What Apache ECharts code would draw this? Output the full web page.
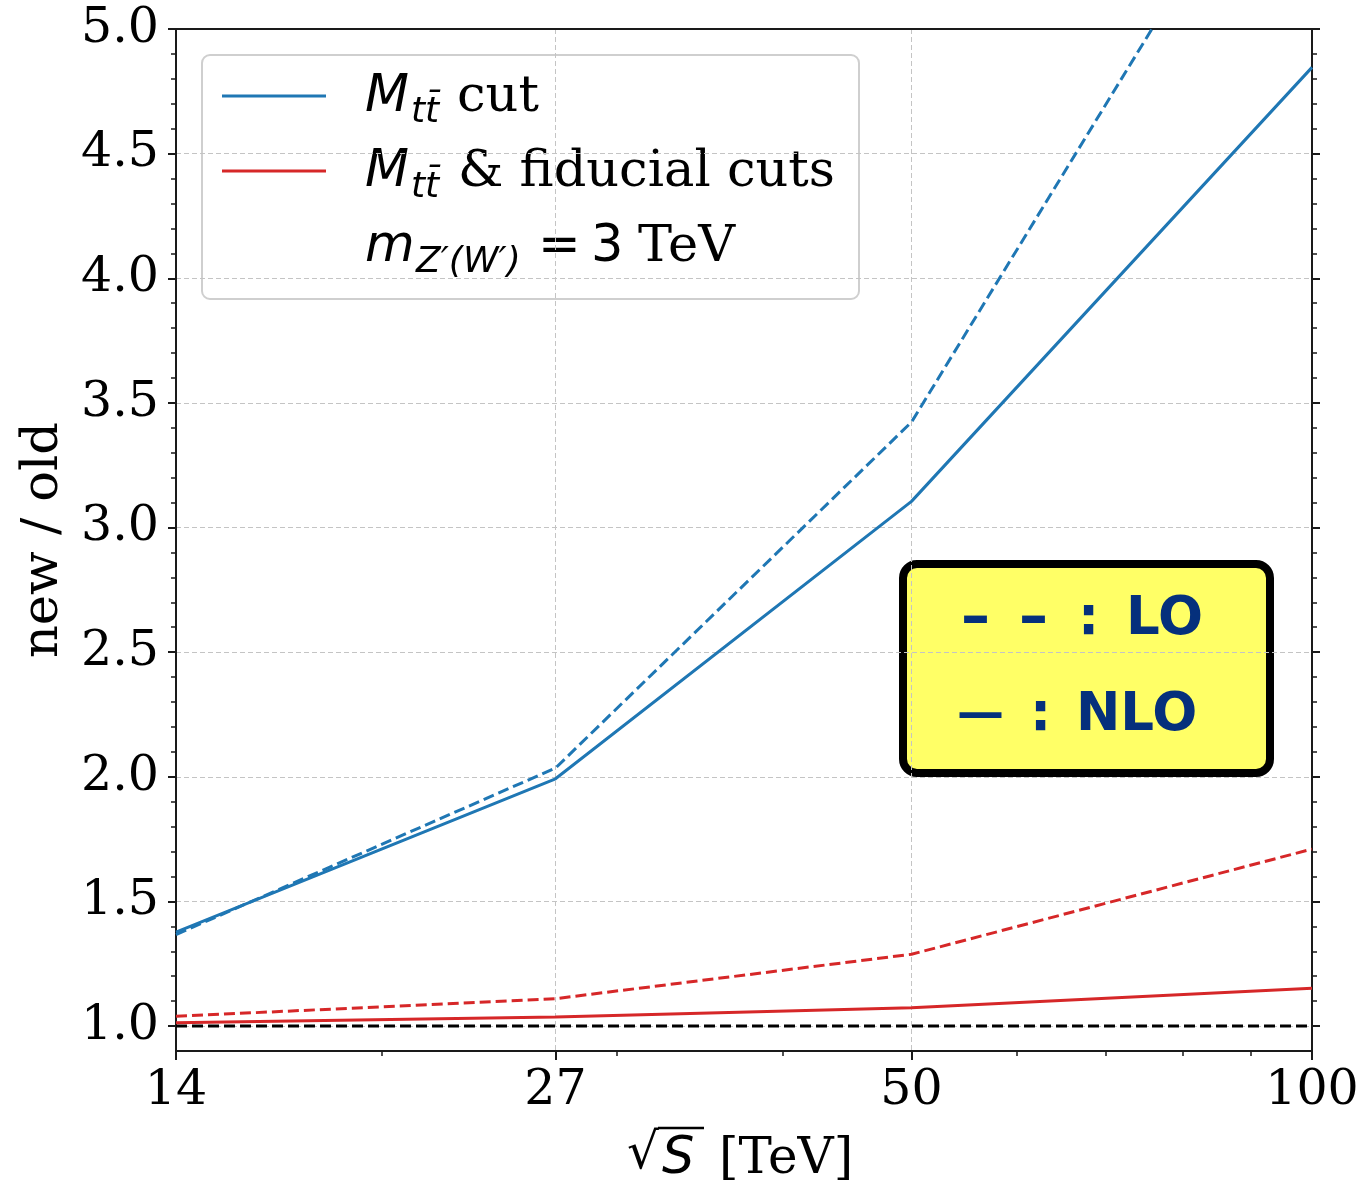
<!DOCTYPE html>
<html>
<head>
<meta charset="utf-8">
<title>new / old vs sqrt(S)</title>
<script src="https://cdn.jsdelivr.net/npm/echarts@6/dist/echarts.min.js"></script>
<style>
  html, body { margin: 0; padding: 0; background: #ffffff; }
  #chart { width: 1364px; height: 1189px; }
</style>
</head>
<body>
<div id="chart"></div>
<script>
// Collider energies sqrt(S) in TeV
const energies = [14, 27, 50, 100];
// Ratio new/old, M_tt cut only
const cutNLO = [1.377, 1.992, 3.105, 4.846];
const cutLO = [1.367, 2.035, 3.423, 6.05];
// Ratio new/old, M_tt & fiducial cuts
const fidNLO = [1.013, 1.036, 1.074, 1.152];
const fidLO = [1.039, 1.110, 1.288, 1.710];
// Reference ratio of one
const unityRange = [14, 100];
const unityValue = [1.0, 1.0];

// Tick values
const xMajorTicks = [14, 27, 50, 100];
const xMinorTicks = [20, 30, 40, 60, 70, 80, 90];
const yMajorTicks = [1.0, 1.5, 2.0, 2.5, 3.0, 3.5, 4.0, 4.5, 5.0];
const yMinorTicks = [1.1, 1.2, 1.3, 1.4, 1.6, 1.7, 1.8, 1.9, 2.1, 2.2, 2.3, 2.4,
  2.6, 2.7, 2.8, 2.9, 3.1, 3.2, 3.3, 3.4, 3.6, 3.7, 3.8, 3.9, 4.1, 4.2, 4.3, 4.4,
  4.6, 4.7, 4.8, 4.9];

const BLUE = '#1f77b4';
const RED = '#d62728';
const NAVY = '#05307c';
const SERIF = 'DejaVu Serif';
const DASH = [11, 5];

const pair = (xs, ys) => xs.map((x, i) => [x, ys[i]]);

const chart = echarts.init(document.getElementById('chart'), null, { renderer: 'canvas' });

const xBase = { type: 'log', logBase: 10, min: 14, max: 100, gridIndex: 0 };
const yBase = { type: 'value', min: 0.9, max: 5.0, gridIndex: 0 };
const spine = { show: true, onZero: false, lineStyle: { color: '#1a1a1a', width: 2 } };
const gridLine = { show: true, lineStyle: { color: '#c4c4c4', width: 1, type: [5, 3] } };

// helper for plain text pieces in the annotation boxes
const txt = (x, y, text, font, extra) => ({
  type: 'text', x: x, y: y,
  style: Object.assign({ text: text, font: font, fill: '#000', verticalAlign: 'middle' }, extra || {})
});

const MAIN_IT = 'italic 51px "DejaVu Sans"';
const SUB_IT = 'italic 36px "DejaVu Sans"';
const MAIN_RM = '51px "DejaVu Serif"';
const MAIN_SANS = '51px "DejaVu Sans"';
const KEY_FONT = 'bold 53px "DejaVu Sans"';

const option = {
  backgroundColor: '#ffffff',
  animation: false,
  grid: { left: 176, right: 52, top: 29, bottom: 138, containLabel: false },
  xAxis: [
    Object.assign({}, xBase, {
      position: 'bottom',
      axisLine: spine,
      axisTick: { show: true, customValues: xMajorTicks, length: 9, lineStyle: { color: '#1a1a1a', width: 2 } },
      axisLabel: {
        show: true, customValues: xMajorTicks, margin: 16,
        fontFamily: SERIF, fontSize: 49, color: '#000',
        formatter: v => String(Math.round(v))
      },
      splitLine: gridLine,
      minorTick: { show: false }, minorSplitLine: { show: false }
    }),
    Object.assign({}, xBase, {
      position: 'bottom',
      axisLine: { show: false },
      axisTick: { show: true, customValues: xMinorTicks, length: 5, lineStyle: { color: '#1a1a1a', width: 1.5 } },
      axisLabel: { show: false },
      splitLine: { show: false }
    }),
    Object.assign({}, xBase, {
      position: 'top',
      axisLine: spine,
      axisTick: { show: false },
      axisLabel: { show: false },
      splitLine: { show: false }
    })
  ],
  yAxis: [
    Object.assign({}, yBase, {
      position: 'left',
      axisLine: spine,
      axisTick: { show: true, customValues: yMajorTicks, length: 8, lineStyle: { color: '#1a1a1a', width: 2 } },
      axisLabel: {
        show: true, customValues: yMajorTicks, margin: 17, padding: [6, 0, 0, 0],
        fontFamily: SERIF, fontSize: 49, color: '#000',
        formatter: v => v.toFixed(1)
      },
      splitLine: Object.assign({}, gridLine, { show: true }),
      minorTick: { show: false }
    }),
    Object.assign({}, yBase, {
      position: 'left',
      axisLine: { show: false },
      axisTick: { show: true, customValues: yMinorTicks, length: 5, lineStyle: { color: '#1a1a1a', width: 1.5 } },
      axisLabel: { show: false },
      splitLine: { show: false }
    }),
    Object.assign({}, yBase, {
      position: 'right',
      axisLine: spine,
      axisTick: { show: true, customValues: yMajorTicks, length: 8, lineStyle: { color: '#1a1a1a', width: 2 } },
      axisLabel: { show: false },
      splitLine: { show: false }
    }),
    Object.assign({}, yBase, {
      position: 'right',
      axisLine: { show: false },
      axisTick: { show: true, customValues: yMinorTicks, length: 5, lineStyle: { color: '#1a1a1a', width: 1.5 } },
      axisLabel: { show: false },
      splitLine: { show: false }
    })
  ],
  series: [
    {
      name: 'ratio = 1', type: 'line', xAxisIndex: 0, yAxisIndex: 0,
      data: pair(unityRange, unityValue), symbol: 'none', clip: true, z: 2,
      lineStyle: { color: '#000000', width: 3, type: DASH }
    },
    {
      name: 'M_tt cut LO', type: 'line', xAxisIndex: 0, yAxisIndex: 0,
      data: pair(energies, cutLO), symbol: 'none', clip: true, z: 3,
      lineStyle: { color: BLUE, width: 3, type: DASH }
    },
    {
      name: 'M_tt cut NLO', type: 'line', xAxisIndex: 0, yAxisIndex: 0,
      data: pair(energies, cutNLO), symbol: 'none', clip: true, z: 3,
      lineStyle: { color: BLUE, width: 3 }
    },
    {
      name: 'M_tt & fiducial cuts LO', type: 'line', xAxisIndex: 0, yAxisIndex: 0,
      data: pair(energies, fidLO), symbol: 'none', clip: true, z: 3,
      lineStyle: { color: RED, width: 3, type: DASH }
    },
    {
      name: 'M_tt & fiducial cuts NLO', type: 'line', xAxisIndex: 0, yAxisIndex: 0,
      data: pair(energies, fidNLO), symbol: 'none', clip: true, z: 3,
      lineStyle: { color: RED, width: 3 }
    }
  ],
  graphic: [
    // Legend box
    {
      type: 'group', z: 100,
      children: [
        { type: 'rect', shape: { x: 202, y: 55, width: 657, height: 244, r: 8 },
          style: { fill: 'rgba(255,255,255,0.85)', stroke: '#cfcfcf', lineWidth: 2 } },
        { type: 'line', shape: { x1: 222, y1: 96, x2: 326, y2: 96 }, style: { stroke: BLUE, lineWidth: 3 } },
        { type: 'line', shape: { x1: 222, y1: 171, x2: 326, y2: 171 }, style: { stroke: RED, lineWidth: 3 } },

        txt(365, 98, 'M', MAIN_IT),
        txt(411, 113, 'tt\u0304', SUB_IT),
        txt(457, 98, 'cut', MAIN_RM),

        txt(365, 173, 'M', MAIN_IT),
        txt(411, 188, 'tt\u0304', SUB_IT),
        txt(458, 173, '& fiducial cuts', MAIN_RM),

        txt(365, 248, 'm', MAIN_IT),
        txt(416, 263, 'Z\u2032(W\u2032)', SUB_IT),
        txt(538, 248, '=', MAIN_SANS),
        txt(591, 248, '3', MAIN_SANS),
        txt(638, 248, 'TeV', MAIN_RM)
      ]
    },
    // LO / NLO key
    {
      type: 'group', z: 100,
      children: [
        { type: 'rect', shape: { x: 903, y: 564, width: 367, height: 209, r: 14 },
          style: { fill: '#ffff66', stroke: '#000000', lineWidth: 8 } },
        txt(961, 620, '\u2013', 'bold 58px "DejaVu Sans"', { fill: NAVY }),
        txt(1019, 620, '\u2013', 'bold 58px "DejaVu Sans"', { fill: NAVY }),
        txt(1078, 620, ':', KEY_FONT, { fill: NAVY }),
        txt(1126, 620, 'LO', KEY_FONT, { fill: NAVY }),
        txt(957, 716, '\u2014', 'bold 47px "DejaVu Sans"', { fill: NAVY }),
        txt(1030, 716, ':', KEY_FONT, { fill: NAVY }),
        txt(1076, 716, 'NLO', KEY_FONT, { fill: NAVY })
      ]
    },
    // Axis titles
    {
      type: 'text', x: 44, y: 540, rotation: Math.PI / 2,
      style: { text: 'new / old', font: '51px "DejaVu Serif"', fill: '#000', align: 'center', verticalAlign: 'middle' }
    },
    {
      type: 'group',
      children: [
        txt(627, 1155, '\u221A', '50px "DejaVu Sans"'),
        { type: 'line', shape: { x1: 658, y1: 1128, x2: 704, y2: 1128 }, style: { stroke: '#000', lineWidth: 2.5 } },
        txt(662, 1160, 'S', 'italic 51px "DejaVu Sans"'),
        txt(719, 1160, '[TeV]', '50px "DejaVu Serif"')
      ]
    }
  ]
};

chart.setOption(option);
</script>
</body>
</html>
